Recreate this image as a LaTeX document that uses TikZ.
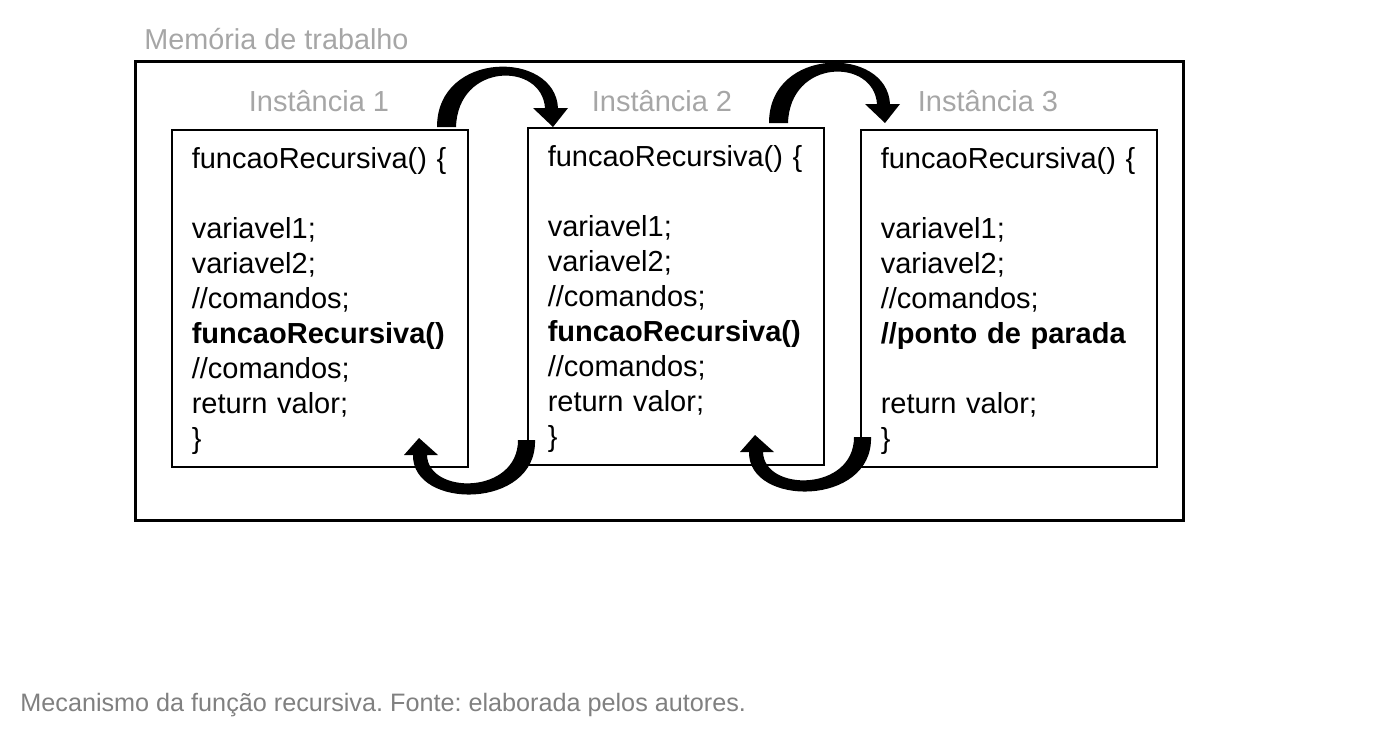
\documentclass[tikz,border=0pt]{standalone}
\usepackage{fontspec}
\setmainfont{Liberation Sans}
\frenchspacing
\definecolor{rotulo}{HTML}{A6A6A6}
\definecolor{cinzalegenda}{HTML}{808080}
\tikzset{
  quadro/.style={draw, line width=0.75pt, minimum width=148pt, minimum height=168.5pt,
    text width=128pt, inner xsep=10pt, align=left, anchor=north west,
    execute at begin node=\rule{0pt}{13.6pt},
    font=\fontsize{14.5}{17.5}\selectfont},
  instancia/.style={text=rotulo, inner sep=0pt, anchor=base, font=\fontsize{14.5}{17.5}\selectfont},
  seta/.style={fill=black},
}
\begin{document}
\begin{tikzpicture}[x=0.5pt, y=-0.5pt]
    \useasboundingbox (0,0) rectangle (1380,740);
    % 工作内存
    \node[anchor=base west, inner sep=0pt, text=rotulo, font=\fontsize{14.4}{17}\selectfont] (titulo) at (144,49) {Memória de trabalho};
    \node[draw, line width=1.5pt, minimum width=524pt, minimum height=229.5pt, anchor=north west] (memoria) at (134,60) {};
    % 实例框
    \node[quadro] (q1) at (171,129) {funcaoRecursiva() \{\\[17.5pt] variavel1;\\ variavel2;\\ //comandos;\\ \textbf{funcaoRecursiva()}\\ //comandos;\\ return valor;\\ \}};
    \node[quadro] (q2) at (527,127) {funcaoRecursiva() \{\\[17.5pt] variavel1;\\ variavel2;\\ //comandos;\\ \textbf{funcaoRecursiva()}\\ //comandos;\\ return valor;\\ \}};
    \node[quadro] (q3) at (860,129) {funcaoRecursiva() \{\\[17.5pt] variavel1;\\ variavel2;\\ //comandos;\\ \textbf{//ponto de parada}\\[17.5pt] return valor;\\ \}};
    % 标题
    \node[instancia] (i1) at (319,111) {Instância 1};
    \node[instancia] (i2) at (662,111) {Instância 2};
    \node[instancia] (i3) at (988,111) {Instância 3};
    % 上方箭头
    \foreach \dx/\dy in {0/0, 332/-4} {
      \fill[seta, shift={(\dx,\dy)}] (437,127) .. controls (437,50) and (555,50) .. (558,108)
        -- (568,108) -- (553,127) -- (533,108) -- (545,108)
        .. controls (542,62) and (458,62) .. (456,127) -- cycle;
    }
    % 下方箭头
    \foreach \dx/\dy in {0/0, 336/-3} {
      \fill[seta, shift={(\dx,\dy)}] (535,440) .. controls (537,510) and (412,510) .. (413,455)
        -- (404,455) -- (419,438) -- (438,455) -- (427,455)
        .. controls (428,495) and (518,495) .. (518,440) -- cycle;
    }
    % 图注
    \node[anchor=base west, inner sep=0pt, text=cinzalegenda, font=\fontsize{12.6}{15}\selectfont] (legenda) at (20,711) {Mecanismo da função recursiva. Fonte: elaborada pelos autores.};
\end{tikzpicture}
\end{document}
